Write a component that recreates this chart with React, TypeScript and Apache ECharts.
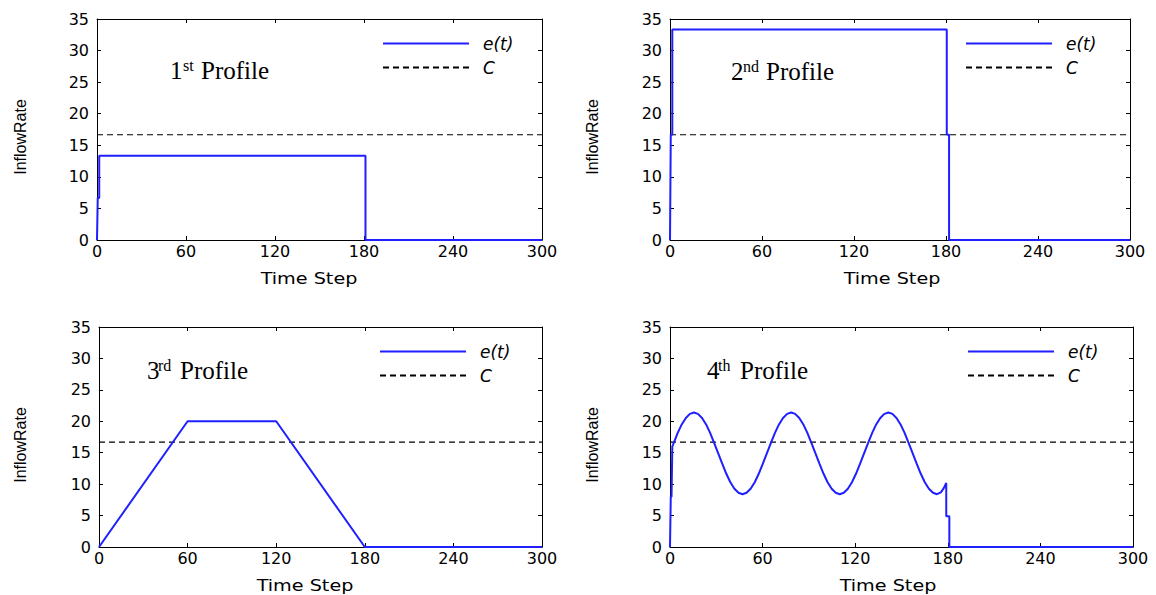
import React, { useEffect, useRef } from "react";
import * as echarts from "echarts";

// ---- data ----
const xMin = 0;
const xMax = 300;
const xInterval = 60;
const yMin = 0;
const yMax = 35;
const yInterval = 5;
const capacity = 16.67;

const profile1: number[][] = [
  [0, 0], [0.5, 6.67], [1.5, 6.67], [1.5, 13.33], [181, 13.33], [181, 0], [300, 0],
];
const profile2: number[][] = [
  [0, 0], [0.5, 16.67], [1.5, 16.67], [1.5, 33.33], [180.5, 33.33], [180.5, 16.67],
  [182, 16.67], [182, 0], [300, 0],
];
const profile3: number[][] = [
  [0, 0], [60, 20], [120, 20], [180, 0], [300, 0],
];
const profile4: number[][] = [
  [0, 0], [0.5, 8], [1, 8], [1.5, 16], [2, 16.3], [5, 18.15], [7.6, 19.5], [10.25, 20.53],
  [12.9, 21.18], [15.5, 21.4], [18.1, 21.18], [20.75, 20.53], [23.4, 19.5], [26, 18.15],
  [28.6, 16.58], [31.25, 14.9], [33.9, 13.22], [36.5, 11.65], [39.1, 10.3], [41.75, 9.27],
  [44.4, 8.62], [47, 8.4], [49.6, 8.62], [52.25, 9.27], [54.9, 10.3], [57.5, 11.65],
  [60.1, 13.22], [62.75, 14.9], [65.4, 16.58], [68, 18.15], [70.6, 19.5], [73.25, 20.53],
  [75.9, 21.18], [78.5, 21.4], [81.1, 21.18], [83.75, 20.53], [86.4, 19.5], [89, 18.15],
  [91.6, 16.58], [94.25, 14.9], [96.9, 13.22], [99.5, 11.65], [102.1, 10.3], [104.75, 9.27],
  [107.4, 8.62], [110, 8.4], [112.6, 8.62], [115.25, 9.27], [117.9, 10.3], [120.5, 11.65],
  [123.1, 13.22], [125.75, 14.9], [128.4, 16.58], [131, 18.15], [133.6, 19.5], [136.25, 20.53],
  [138.9, 21.18], [141.5, 21.4], [144.1, 21.18], [146.75, 20.53], [149.4, 19.5], [152, 18.15],
  [154.6, 16.58], [157.25, 14.9], [159.9, 13.22], [162.5, 11.65], [165.1, 10.3], [167.75, 9.27],
  [170.4, 8.62], [173, 8.4], [175.5, 8.7], [177.5, 9.4], [179, 10.2], [179, 4.9], [181, 4.9],
  [181, 0], [300, 0],
];
const profiles = [profile1, profile2, profile3, profile4];
const capacityLine: number[][] = [[xMin, capacity], [xMax, capacity]];

const profileNumbers = ["1", "2", "3", "4"];
const profileSuffixes = ["st", "nd", "rd", "th"];
const profileWord = "Profile";
const seriesNames = ["e(t)", "C"];
const xAxisTitle = "Time Step";
const yAxisTitle = "InflowRate";

// ---- layout ----
const grids = [
  { left: 97, top: 19, width: 445, height: 221 },
  { left: 670, top: 19, width: 460, height: 221 },
  { left: 99, top: 327, width: 443, height: 220 },
  { left: 670, top: 327, width: 463, height: 220 },
];
const legendPos = [
  { left: 382, top: 35 },
  { left: 965, top: 35 },
  { left: 379, top: 343 },
  { left: 967, top: 343 },
];
const annot = [
  { numX: 170, supX: 183, wordX: 201, y: 70 },
  { numX: 731, supX: 743, wordX: 766, y: 71 },
  { numX: 147, supX: 158, wordX: 180, y: 370 },
  { numX: 707, supX: 718, wordX: 740, y: 370 },
];
const xTitlePos = [
  { x: 309, y: 279 },
  { x: 892, y: 279 },
  { x: 305, y: 586 },
  { x: 888, y: 586 },
];
const yTitlePos = [
  { x: 20, y: 137 },
  { x: 592, y: 137 },
  { x: 20, y: 445 },
  { x: 592, y: 445 },
];

const BLUE = "#1f1fff";
const tickFont = "'DejaVu Sans', sans-serif";

function buildOption() {
  const xAxis: any[] = [];
  const yAxis: any[] = [];
  const series: any[] = [];
  const legend: any[] = [];
  const graphic: any[] = [];

  grids.forEach((_, i) => {
    const common = {
      type: "value",
      gridIndex: i,
      splitLine: { show: false },
      axisLine: { show: true, onZero: false, lineStyle: { color: "#000", width: 1 } },
      axisTick: { show: true, inside: true, length: 4, lineStyle: { color: "#000" } },
    };
    xAxis.push({
      ...common,
      position: "bottom",
      min: xMin,
      max: xMax,
      interval: xInterval,
      axisLabel: { color: "#000", fontFamily: tickFont, fontSize: 16, margin: 3 },
    });
    xAxis.push({
      ...common,
      position: "top",
      min: xMin,
      max: xMax,
      interval: xInterval,
      axisLabel: { show: false },
    });
    yAxis.push({
      ...common,
      position: "left",
      min: yMin,
      max: yMax,
      interval: yInterval,
      axisLabel: { color: "#000", fontFamily: tickFont, fontSize: 16, margin: 8 },
    });
    yAxis.push({
      ...common,
      position: "right",
      min: yMin,
      max: yMax,
      interval: yInterval,
      axisLabel: { show: false },
    });

    series.push({
      name: seriesNames[0],
      type: "line",
      xAxisIndex: 2 * i,
      yAxisIndex: 2 * i,
      data: profiles[i],
      symbol: "none",
      showSymbol: false,
      lineStyle: { color: BLUE, width: 2 },
      itemStyle: { color: BLUE },
      z: 3,
    });
    series.push({
      name: seriesNames[1],
      type: "line",
      xAxisIndex: 2 * i,
      yAxisIndex: 2 * i,
      data: capacityLine,
      symbol: "none",
      showSymbol: false,
      lineStyle: { color: "#000", width: 1.2, type: [6, 4] },
      itemStyle: { color: "#000" },
      z: 2,
    });

    legend.push({
      data: seriesNames,
      orient: "vertical",
      left: legendPos[i].left,
      top: legendPos[i].top,
      itemWidth: 86,
      itemHeight: 14,
      itemGap: 7,
      padding: 0,
      selectedMode: false,
      itemStyle: {
        color: "transparent",
        borderColor: "transparent",
        borderWidth: 0,
        opacity: 0,
      },
      textStyle: {
        fontFamily: tickFont,
        fontStyle: "italic",
        fontSize: 17,
        color: "#000",
        padding: [0, 0, 0, 9],
      },
    });

    const a = annot[i];
    graphic.push({
      type: "text",
      x: a.numX,
      y: a.y,
      style: {
        text: profileNumbers[i],
        font: "25px 'Liberation Serif', serif",
        fill: "#000",
        align: "left",
        verticalAlign: "middle",
      },
    });
    graphic.push({
      type: "text",
      x: a.supX,
      y: a.y - 5,
      style: {
        text: profileSuffixes[i],
        font: "16px 'Liberation Serif', serif",
        fill: "#000",
        align: "left",
        verticalAlign: "middle",
      },
    });
    graphic.push({
      type: "text",
      x: a.wordX,
      y: a.y,
      style: {
        text: profileWord,
        font: "25px 'Liberation Serif', serif",
        fill: "#000",
        align: "left",
        verticalAlign: "middle",
      },
    });
    graphic.push({
      type: "text",
      x: xTitlePos[i].x,
      y: xTitlePos[i].y,
      scaleX: 1.2,
      style: {
        text: xAxisTitle,
        font: "16px 'DejaVu Sans', sans-serif",
        fill: "#000",
        align: "center",
        verticalAlign: "middle",
      },
    });
    graphic.push({
      type: "text",
      x: yTitlePos[i].x,
      y: yTitlePos[i].y,
      rotation: Math.PI / 2,
      style: {
        text: yAxisTitle,
        font: "16px 'Liberation Sans', sans-serif",
        fill: "#000",
        align: "center",
        verticalAlign: "middle",
      },
    });
  });

  return {
    animation: false,
    backgroundColor: "#fff",
    grid: grids.map((g) => ({ ...g, containLabel: false })),
    xAxis,
    yAxis,
    series,
    legend,
    graphic,
  };
}

export default function App() {
  const ref = useRef<HTMLDivElement>(null);
  useEffect(() => {
    if (!ref.current) return;
    const chart = echarts.init(ref.current, undefined, { renderer: "svg" });
    chart.setOption(buildOption() as any);
    return () => chart.dispose();
  }, []);
  return (
    <div
      ref={ref}
      style={{ position: "fixed", left: 0, top: 0, width: 1156, height: 595, background: "#fff" }}
    />
  );
}
